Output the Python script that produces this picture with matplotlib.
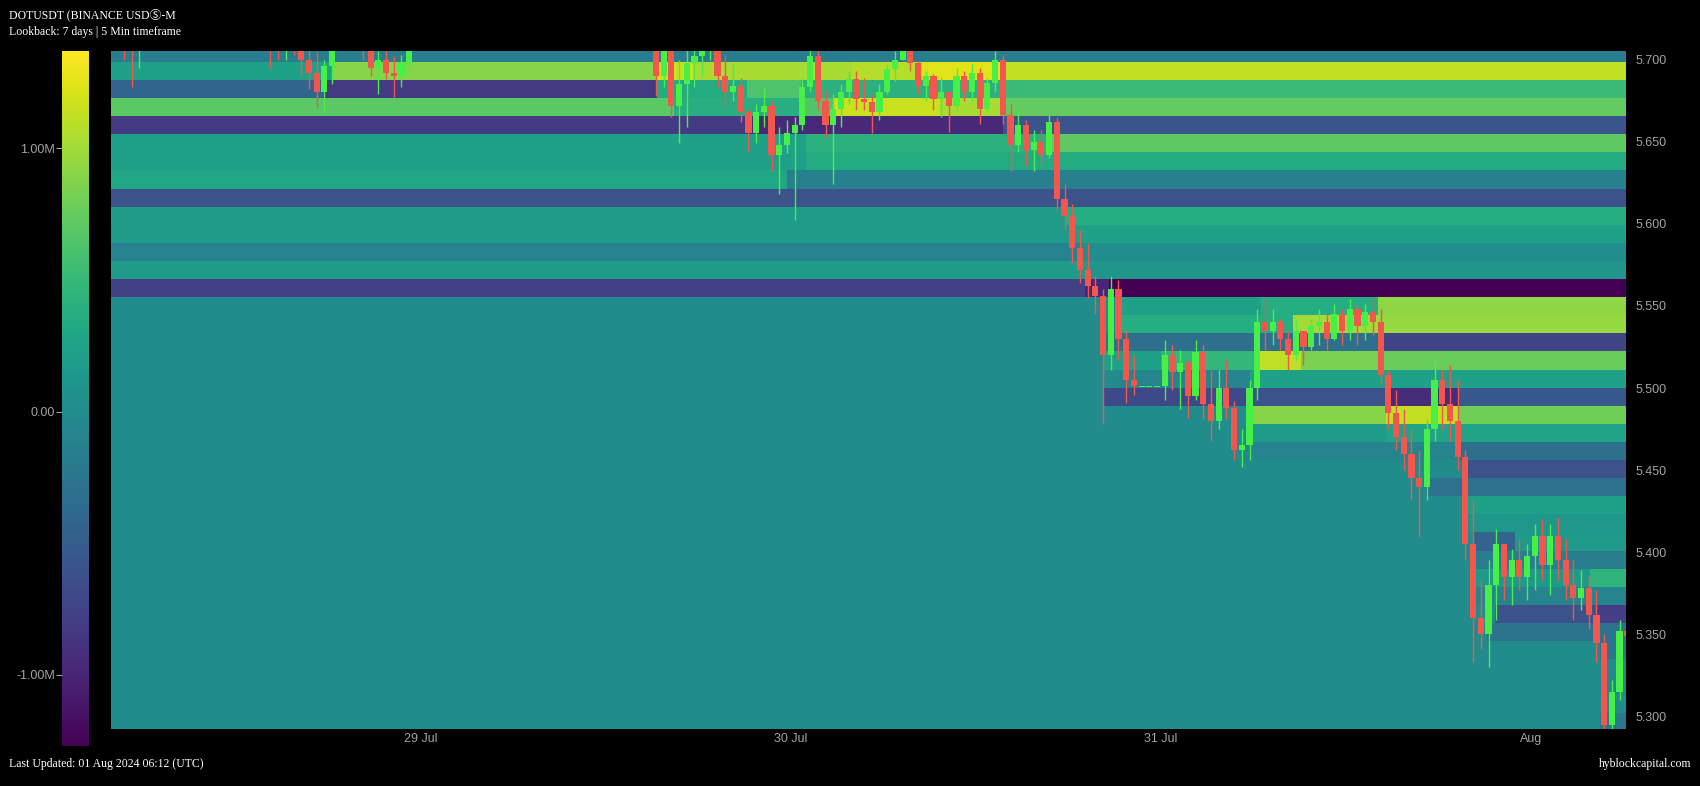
import matplotlib
matplotlib.use("Agg")
import matplotlib.pyplot as plt
import matplotlib.dates as mdates
import numpy as np
import pandas as pd
from matplotlib.patches import Rectangle
from matplotlib.collections import PatchCollection

# ---------------- texts ----------------
title_text = "DOTUSDT (BINANCE USDⓈ-M"
subtitle_text = "Lookback: 7 days | 5 Min timeframe"
footer_left = "Last Updated: 01 Aug 2024 06:12 (UTC)"
footer_right = "hyblockcapital.com"

# ---------------- axes ranges / ticks ----------------
x_start = "2024-07-28 03:53"
x_end = "2024-08-01 06:10"
y_min, y_max = 5.2922, 5.7052
ytick_values = [5.300, 5.350, 5.400, 5.450, 5.500, 5.550, 5.600, 5.650, 5.700]
ytick_labels = ["5.300", "5.350", "5.400", "5.450", "5.500", "5.550", "5.600", "5.650", "5.700"]
xtick_dates = ["2024-07-29", "2024-07-30", "2024-07-31", "2024-08-01"]
xtick_labels = ["29 Jul", "30 Jul", "31 Jul", "Aug"]
cbar_ticks = [-1.0e6, 0.0, 1.0e6]
cbar_labels = ["-1.00M", "0.00", "1.00M"]
value_min, value_max = -1.27e6, 1.37e6

# ---------------- candles (30 min, starting 28 Jul 04:00) ----------------
candle_start = "2024-07-28 04:00"
candle_minutes = 30
first_open = 5.730
highs = [5.745, 5.730, 5.720, 5.725, 5.740, 5.752, 5.760, 5.765, 5.758, 5.750,
         5.762, 5.770, 5.768, 5.752, 5.745, 5.750, 5.748, 5.738, 5.735, 5.730,
         5.725, 5.722, 5.720, 5.726, 5.718, 5.712, 5.705, 5.700, 5.715, 5.728,
         5.735, 5.730, 5.722, 5.712, 5.705, 5.710, 5.702, 5.703, 5.715, 5.728,
         5.740, 5.752, 5.760, 5.755, 5.745, 5.758, 5.770, 5.778, 5.772, 5.762,
         5.755, 5.765, 5.770, 5.760, 5.750, 5.748, 5.742, 5.752, 5.758, 5.748,
         5.740, 5.738, 5.745, 5.740, 5.732, 5.735, 5.738, 5.728, 5.725, 5.722,
         5.718, 5.712, 5.712, 5.700, 5.706, 5.710, 5.712, 5.715, 5.710, 5.703,
         5.697, 5.689, 5.669, 5.673, 5.683, 5.675, 5.659, 5.663, 5.665, 5.689,
         5.706, 5.706, 5.681, 5.679, 5.685, 5.693, 5.693, 5.689, 5.679, 5.685,
         5.697, 5.705, 5.712, 5.708, 5.699, 5.693, 5.691, 5.689, 5.681, 5.695,
         5.693, 5.697, 5.695, 5.689, 5.705, 5.703, 5.673, 5.669, 5.663, 5.657,
         5.657, 5.667, 5.665, 5.624, 5.612, 5.596, 5.588, 5.568, 5.560, 5.568,
         5.566, 5.535, 5.520, 5.501, 5.501, 5.501, 5.529, 5.526, 5.523, 5.517,
         5.529, 5.526, 5.511, 5.511, 5.517, 5.492, 5.475, 5.505, 5.548, 5.554,
         5.548, 5.542, 5.535, 5.542, 5.535, 5.542, 5.548, 5.545, 5.551, 5.548,
         5.554, 5.551, 5.551, 5.555, 5.548, 5.511, 5.499, 5.487, 5.475, 5.462,
         5.481, 5.517, 5.511, 5.514, 5.505, 5.462, 5.432, 5.383, 5.395, 5.414,
         5.405, 5.402, 5.408, 5.405, 5.417, 5.420, 5.417, 5.421, 5.408, 5.395,
         5.389, 5.386, 5.377, 5.350, 5.322, 5.359, 5.359]
lows = [5.712, 5.700, 5.683, 5.695, 5.712, 5.726, 5.735, 5.740, 5.732, 5.728,
        5.738, 5.745, 5.740, 5.725, 5.718, 5.725, 5.722, 5.714, 5.710, 5.708,
        5.695, 5.700, 5.700, 5.703, 5.690, 5.682, 5.671, 5.668, 5.685, 5.706,
        5.712, 5.708, 5.700, 5.690, 5.679, 5.688, 5.677, 5.683, 5.694, 5.706,
        5.716, 5.728, 5.736, 5.730, 5.722, 5.735, 5.745, 5.752, 5.748, 5.738,
        5.730, 5.740, 5.748, 5.735, 5.725, 5.722, 5.718, 5.728, 5.736, 5.725,
        5.718, 5.715, 5.722, 5.716, 5.710, 5.712, 5.714, 5.708, 5.707, 5.706,
        5.678, 5.683, 5.665, 5.649, 5.659, 5.683, 5.690, 5.700, 5.683, 5.671,
        5.675, 5.662, 5.644, 5.649, 5.659, 5.632, 5.618, 5.643, 5.602, 5.657,
        5.680, 5.669, 5.653, 5.624, 5.659, 5.673, 5.669, 5.669, 5.655, 5.663,
        5.679, 5.687, 5.700, 5.693, 5.679, 5.675, 5.669, 5.665, 5.656, 5.669,
        5.675, 5.675, 5.661, 5.668, 5.680, 5.661, 5.632, 5.644, 5.635, 5.632,
        5.636, 5.640, 5.608, 5.596, 5.576, 5.564, 5.555, 5.545, 5.478, 5.511,
        5.517, 5.491, 5.496, 5.501, 5.501, 5.501, 5.493, 5.499, 5.487, 5.482,
        5.493, 5.481, 5.468, 5.475, 5.481, 5.456, 5.452, 5.456, 5.493, 5.523,
        5.526, 5.523, 5.511, 5.517, 5.514, 5.523, 5.526, 5.523, 5.529, 5.526,
        5.529, 5.526, 5.529, 5.532, 5.502, 5.475, 5.462, 5.450, 5.432, 5.409,
        5.432, 5.468, 5.475, 5.468, 5.450, 5.395, 5.333, 5.341, 5.330, 5.359,
        5.371, 5.368, 5.377, 5.371, 5.377, 5.383, 5.374, 5.383, 5.371, 5.359,
        5.365, 5.353, 5.333, 5.285, 5.290, 5.310, 5.345]
closes = [5.725, 5.712, 5.705, 5.718, 5.732, 5.745, 5.750, 5.748, 5.740, 5.744,
          5.755, 5.760, 5.746, 5.731, 5.735, 5.742, 5.728, 5.724, 5.720, 5.715,
          5.712, 5.708, 5.714, 5.709, 5.700, 5.692, 5.680, 5.696, 5.710, 5.720,
          5.728, 5.716, 5.706, 5.695, 5.700, 5.692, 5.690, 5.698, 5.710, 5.722,
          5.735, 5.745, 5.748, 5.738, 5.741, 5.752, 5.762, 5.766, 5.755, 5.745,
          5.750, 5.758, 5.752, 5.742, 5.738, 5.730, 5.735, 5.745, 5.740, 5.732,
          5.728, 5.733, 5.738, 5.725, 5.722, 5.730, 5.720, 5.716, 5.712, 5.710,
          5.690, 5.705, 5.672, 5.685, 5.698, 5.702, 5.706, 5.708, 5.690, 5.680,
          5.684, 5.668, 5.655, 5.668, 5.672, 5.642, 5.648, 5.655, 5.660, 5.683,
          5.702, 5.675, 5.660, 5.670, 5.680, 5.688, 5.676, 5.674, 5.668, 5.680,
          5.694, 5.700, 5.706, 5.698, 5.684, 5.690, 5.676, 5.680, 5.672, 5.690,
          5.680, 5.692, 5.670, 5.686, 5.700, 5.666, 5.648, 5.660, 5.645, 5.650,
          5.642, 5.662, 5.615, 5.605, 5.585, 5.572, 5.562, 5.556, 5.520, 5.560,
          5.530, 5.505, 5.501, 5.501, 5.501, 5.501, 5.520, 5.510, 5.515, 5.495,
          5.522, 5.490, 5.480, 5.500, 5.488, 5.462, 5.465, 5.500, 5.540, 5.535,
          5.540, 5.530, 5.520, 5.535, 5.525, 5.538, 5.540, 5.530, 5.545, 5.535,
          5.548, 5.538, 5.546, 5.540, 5.508, 5.485, 5.470, 5.460, 5.445, 5.440,
          5.475, 5.505, 5.490, 5.480, 5.458, 5.405, 5.360, 5.350, 5.380, 5.405,
          5.385, 5.395, 5.385, 5.398, 5.410, 5.392, 5.410, 5.395, 5.380, 5.372,
          5.378, 5.362, 5.345, 5.295, 5.315, 5.352, 5.349]

# ---------------- heatmap price levels ----------------
level_top = 5.7096
level_step = 0.01102
n_levels = 38
# for each level (top to bottom): list of (time from which the value holds, value in millions)
band_segments = [
    [("07-28 03:53", -0.16)],
    [("07-28 03:53", 0.235), ("07-28 18:20", 0.895), ("07-29 15:20", 1.16), ("07-29 17:40", 1.027),
     ("07-30 04:00", 1.08), ("07-30 08:30", 1.24), ("07-30 13:35", 1.132)],
    [("07-28 03:53", -0.42), ("07-28 17:40", -0.82), ("07-29 15:20", 0.34), ("07-29 21:10", 0.63),
     ("07-30 00:40", 0.42), ("07-30 13:35", 0.525)],
    [("07-28 03:53", 0.69), ("07-29 16:25", 0.39), ("07-30 00:40", 0.657), ("07-30 02:45", 1.159),
     ("07-30 09:40", 1.027), ("07-30 13:35", 0.736)],
    [("07-28 03:53", -0.82), ("07-29 21:00", -0.97), ("07-30 13:45", -0.58)],
    [("07-28 03:53", 0.235), ("07-30 01:00", 0.42), ("07-30 16:50", 0.71)],
    [("07-28 03:53", 0.208), ("07-30 01:00", 0.34)],
    [("07-28 03:53", 0.288), ("07-29 23:45", -0.135)],
    [("07-28 03:53", -0.61)],
    [("07-28 03:53", 0.182), ("07-30 17:45", 0.367)],
    [("07-28 03:53", 0.156), ("07-30 18:25", 0.235)],
    [("07-28 03:53", -0.108), ("07-30 18:45", 0.024)],
    [("07-28 03:53", 0.182), ("07-30 19:25", 0.103)],
    [("07-28 03:53", -0.768), ("07-30 19:05", -1.0), ("07-30 20:40", -1.27)],
    [("07-28 03:53", 0.0), ("07-30 21:05", 0.235), ("07-31 06:30", 0.367), ("07-31 14:05", 0.92)],
    [("07-28 03:53", 0.0), ("07-30 21:05", 0.367), ("07-31 08:35", 1.0), ("07-31 14:05", 0.948)],
    [("07-28 03:53", 0.0), ("07-30 20:20", -0.32), ("07-31 14:05", -0.74)],
    [("07-28 03:53", 0.0), ("07-30 20:20", 0.235), ("07-31 00:00", 0.472), ("07-31 06:15", 1.106),
     ("07-31 09:05", 0.842), ("07-31 14:20", 0.763)],
    [("07-28 03:53", 0.0), ("07-30 21:20", -0.082), ("07-31 05:45", 0.235)],
    [("07-28 03:53", 0.0), ("07-30 20:20", -0.69), ("07-31 05:45", -0.61), ("07-31 14:35", -0.95),
     ("07-31 19:15", -0.557)],
    [("07-28 03:53", 0.0), ("07-31 05:45", 0.895), ("07-31 14:35", 1.132), ("07-31 19:15", 0.789)],
    [("07-28 03:53", 0.0), ("07-31 05:45", 0.182), ("07-31 14:35", 0.261)],
    [("07-28 03:53", 0.0), ("07-31 05:10", -0.082), ("07-31 19:15", -0.32)],
    [("07-28 03:53", 0.0), ("07-31 19:45", -0.61)],
    [("07-28 03:53", 0.0), ("07-31 17:10", -0.293)],
    [("07-28 03:53", 0.0), ("07-31 19:45", 0.235)],
    [("07-28 03:53", 0.0), ("07-31 20:00", 0.129)],
    [("07-28 03:53", 0.0), ("07-31 20:20", -0.425), ("07-31 23:00", 0.156)],
    [("07-28 03:53", 0.0), ("07-31 20:20", -0.161)],
    [("07-28 03:53", 0.0), ("07-31 20:20", 0.156), ("08-01 03:50", 0.446)],
    [("07-28 03:53", 0.0), ("07-31 20:25", -0.082)],
    [("07-28 03:53", 0.0), ("07-31 21:40", -0.61), ("08-01 04:15", -0.795)],
    [("07-28 03:53", 0.0), ("07-31 21:10", -0.267)],
    [("07-28 03:53", 0.0), ("08-01 04:30", -0.267)],
    [("07-28 03:53", 0.0), ("08-01 04:30", -0.03)],
    [("07-28 03:53", 0.0), ("08-01 04:30", -0.06)],
    [("07-28 03:53", 0.0), ("08-01 04:30", 0.0)],
    [("07-28 03:53", 0.0), ("08-01 04:30", -0.214)],
]

# ---------------- colours ----------------
bg = "black"
up_color = "#46f046"
down_color = "#f2564c"
label_gray = "#a3a3a3"
serif = ["Liberation Serif", "Noto Sans CJK SC", "DejaVu Sans"]
sans = ["Liberation Sans", "DejaVu Sans"]

# ---------------- build heatmap grid ----------------
def ts(s):
    return pd.Timestamp("2024-" + s)

x0 = mdates.date2num(pd.Timestamp(x_start))
x1 = mdates.date2num(pd.Timestamp(x_end))
change_times = sorted({mdates.date2num(ts(t)) for seg in band_segments for t, _ in seg})
col_edges = np.array(sorted(set([x0] + [c for c in change_times if x0 < c < x1] + [x1])))
Z = np.zeros((n_levels, len(col_edges) - 1))
for i, seg in enumerate(band_segments):
    seg_t = [mdates.date2num(ts(t)) for t, _ in seg]
    seg_v = [v for _, v in seg]
    for j in range(len(col_edges) - 1):
        c = col_edges[j]
        val = seg_v[0]
        for tt, vv in zip(seg_t, seg_v):
            if tt <= c + 1e-9:
                val = vv
        Z[i, j] = val * 1e6
row_edges = level_top - level_step * np.arange(n_levels + 1)

# ---------------- figure ----------------
W, H = 1700, 786
fig = plt.figure(figsize=(W / 100, H / 100), dpi=100, facecolor=bg)
ax = fig.add_axes([110.6 / W, 1 - 729.3 / H, (1626 - 110.6) / W, (729.3 - 51) / H])
cax = fig.add_axes([61.8 / W, 1 - 746 / H, 27 / W, 695 / H])
ax.set_facecolor(bg)

mesh = ax.pcolormesh(col_edges, row_edges[::-1], Z[::-1], cmap="viridis",
                     vmin=value_min, vmax=value_max, shading="flat",
                     edgecolors="none", antialiased=False, zorder=1)

# candles
t0 = pd.Timestamp(candle_start)
n = len(closes)
opens = [first_open] + closes[:-1]
centers = [mdates.date2num(t0 + pd.Timedelta(minutes=candle_minutes * k + candle_minutes / 2)) for k in range(n)]
bw = candle_minutes / 1440 * 0.8
rects, rcols = [], []
for k in range(n):
    o, c = opens[k], closes[k]
    col = up_color if c >= o else down_color
    lo_b, hi_b = min(o, c), max(o, c)
    if hi_b - lo_b < 0.0008:
        mid = (hi_b + lo_b) / 2
        lo_b, hi_b = mid - 0.0004, mid + 0.0004
    rects.append(Rectangle((centers[k] - bw / 2, lo_b), bw, hi_b - lo_b))
    rcols.append(col)
    ax.vlines(centers[k], lows[k], highs[k], colors=col, linewidth=1.0, zorder=3)
pc = PatchCollection(rects, facecolors=rcols, edgecolors="none", zorder=4)
ax.add_collection(pc)

ax.set_xlim(x0, x1)
ax.set_ylim(y_min, y_max)
for s in ax.spines.values():
    s.set_visible(False)
ax.yaxis.tick_right()
ax.set_yticks(ytick_values)
ax.set_yticklabels(ytick_labels)
ax.set_xticks([mdates.date2num(pd.Timestamp(d)) for d in xtick_dates])
ax.set_xticklabels(xtick_labels)
ax.tick_params(axis="both", length=0, colors=label_gray, labelsize=9)
ax.tick_params(axis="y", pad=7)
ax.tick_params(axis="x", pad=3)
for lab in ax.get_xticklabels() + ax.get_yticklabels():
    lab.set_family(sans)

cb = fig.colorbar(mesh, cax=cax)
cb.outline.set_visible(False)
cax.yaxis.set_ticks_position("left")
cb.set_ticks(cbar_ticks)
cb.set_ticklabels(cbar_labels)
cax.tick_params(colors=label_gray, labelsize=9, length=4, width=0.8, pad=1)
cax.minorticks_off()
for lab in cax.get_yticklabels():
    lab.set_family(sans)

fig.text(9 / W, 1 - 15 / H, title_text, color="white", fontsize=8.5, family=serif, va="center")
fig.text(9 / W, 1 - 32 / H, subtitle_text, color="white", fontsize=8.5, family=serif, va="center")
fig.text(9 / W, 1 - 764 / H, footer_left, color="white", fontsize=8.5, family=serif, va="center")
fig.text(1691 / W, 1 - 764 / H, footer_right, color="white", fontsize=8.5, family=serif, va="center", ha="right")

fig.savefig("out.png", dpi=100, facecolor=bg)
